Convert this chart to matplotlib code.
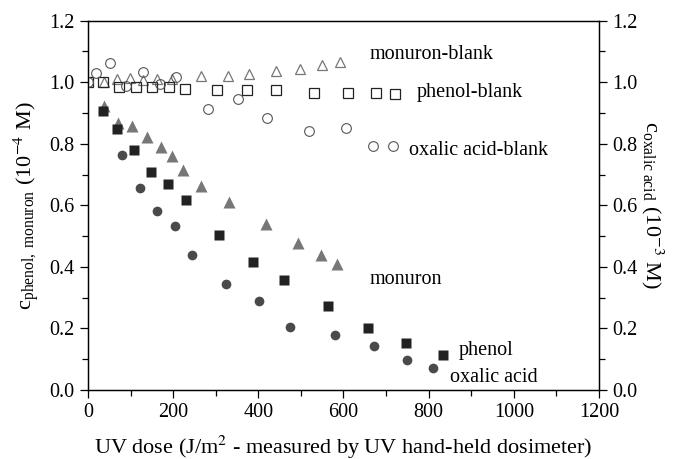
import matplotlib.pyplot as plt
from matplotlib.ticker import MultipleLocator

plt.rcParams['font.family'] = 'Liberation Serif'
plt.rcParams['mathtext.fontset'] = 'stix'

# degradation runs
phenol_x = [36, 69, 109, 148, 189, 229, 308, 387, 461, 564, 657, 746, 833]
phenol_y = [0.905, 0.847, 0.780, 0.710, 0.670, 0.617, 0.504, 0.417, 0.357, 0.272, 0.203, 0.154, 0.113]

monuron_x = [38, 71, 103, 138, 172, 197, 223, 265, 330, 418, 492, 546, 584]
monuron_y = [0.924, 0.867, 0.859, 0.821, 0.791, 0.759, 0.715, 0.663, 0.612, 0.540, 0.479, 0.438, 0.408]

oxalic_x = [81, 123, 163, 204, 244, 323, 401, 475, 579, 671, 749, 810]
oxalic_y = [0.762, 0.655, 0.583, 0.533, 0.438, 0.345, 0.289, 0.204, 0.178, 0.142, 0.096, 0.070]

# blank runs (no catalyst)
monuron_blank_x = [38, 67, 99, 130, 161, 197, 265, 328, 379, 442, 499, 550, 592]
monuron_blank_y = [1.002, 1.010, 1.013, 1.008, 1.010, 1.010, 1.021, 1.021, 1.028, 1.036, 1.044, 1.057, 1.065]

phenol_blank_x = [0, 36, 74, 112, 150, 190, 228, 304, 373, 442, 531, 610, 676, 721]
phenol_blank_y = [1.0, 1.002, 0.984, 0.984, 0.984, 0.984, 0.978, 0.976, 0.976, 0.976, 0.966, 0.965, 0.965, 0.963]

oxalic_blank_x = [0, 18, 52, 89, 129, 170, 207, 282, 352, 420, 519, 606, 670, 717]
oxalic_blank_y = [1.0, 1.030, 1.062, 0.989, 1.034, 0.995, 1.016, 0.914, 0.946, 0.885, 0.840, 0.851, 0.794, 0.794]

fig = plt.figure(figsize=(6.81, 4.59), dpi=100)
ax = fig.add_axes([0.1292, 0.1503, 0.7504, 0.8046])
ax2 = ax.twinx()

ax.plot(monuron_blank_x, monuron_blank_y, '^', ms=7.5, mfc='none', mec='#777777', mew=0.9)
ax.plot(phenol_blank_x, phenol_blank_y, 's', ms=7, mfc='none', mec='#222222', mew=0.9)
ax2.plot(oxalic_blank_x, oxalic_blank_y, 'o', ms=7, mfc='none', mec='#555555', mew=0.8)

ax2.plot(oxalic_x, oxalic_y, 'o', ms=7, color='#4a4a4a', mec='none')
ax.plot(monuron_x, monuron_y, '^', ms=8.5, color='#777777', mec='none')
ax.plot(phenol_x, phenol_y, 's', ms=7.5, color='#222222', mec='none')

for a in (ax, ax2):
    a.set_xlim(0, 1200)
    a.set_ylim(0, 1.2)
    a.yaxis.set_major_locator(MultipleLocator(0.2))
    a.yaxis.set_minor_locator(MultipleLocator(0.1))
    a.tick_params(which='both', direction='out', labelsize=14.5, width=0.9)
    a.tick_params(which='major', length=6)
    a.tick_params(which='minor', length=4)
    a.yaxis.set_major_formatter(plt.FormatStrFormatter('%.1f'))
    for s in a.spines.values():
        s.set_linewidth(0.9)

ax.xaxis.set_major_locator(MultipleLocator(200))
ax.xaxis.set_minor_locator(MultipleLocator(100))

ax.set_xlabel(r'UV dose (J/m$^2$ - measured by UV hand-held dosimeter)', fontsize=16, labelpad=8)
ax.set_ylabel(r'$\mathregular{c}_{\mathregular{phenol,\ monuron}}$ (10$^{-4}$ M)', fontsize=16, labelpad=6)
ax2.set_ylabel(r'$\mathregular{c}_{\mathregular{oxalic\ acid}}$ (10$^{-3}$ M)', fontsize=16, rotation=270, labelpad=20)

# series labels
txt = dict(fontsize=14.5, va='center', ha='left')
ax.text(660, 1.09, 'monuron-blank', **txt)
ax.text(773, 0.968, 'phenol-blank', **txt)
ax.text(754, 0.777, 'oxalic acid-blank', **txt)
ax.text(660, 0.358, 'monuron', **txt)
ax.text(870, 0.13, 'phenol', **txt)
ax.text(851, 0.042, 'oxalic acid', **txt)

plt.savefig('out.png', dpi=100)
